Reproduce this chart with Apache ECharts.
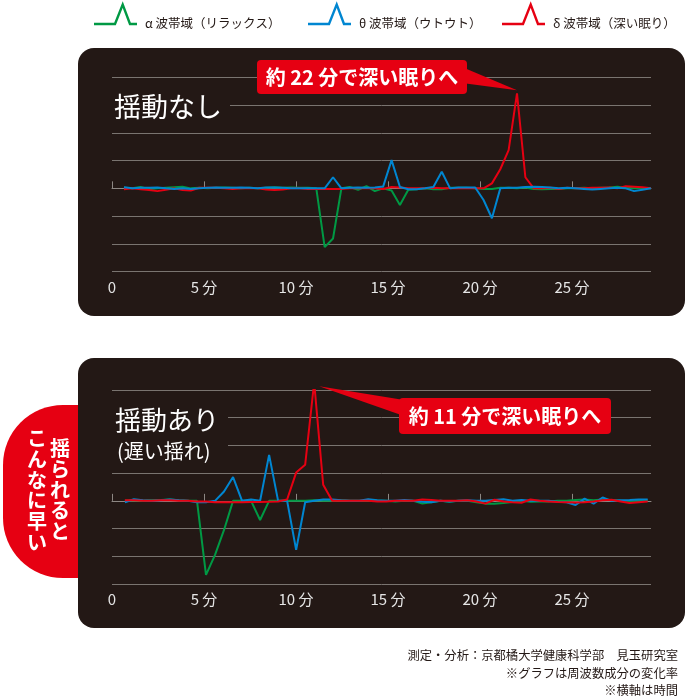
<!DOCTYPE html>
<html>
<head>
<meta charset="utf-8">
<script src="https://cdn.jsdelivr.net/npm/echarts@6/dist/echarts.min.js"></script>
<style>
  html, body { margin: 0; padding: 0; background: #fff; }
  #chart { width: 688px; height: 700px; }
</style>
</head>
<body>
<div id="chart"></div>
<script>
const legendNames = ['α 波帯域（リラックス）', 'θ 波帯域（ウトウト）', 'δ 波帯域（深い眠り）']
const colorList = ['#009944', '#0086d1', '#e60012']
const xTicks = [0, 5, 10, 15, 20, 25]

// 揺動なし（約0.45分ごと）
const calmStart = 0.65
const calmStep = 0.4546
const calmAlpha = [
  0.02, 0.0, 0.05, -0.03, 0.0, 0.02, 0.04, 0.06, 0.0, 0.02,
  0.0, 0.02, 0.03, 0.02, 0.0, 0.02, 0.0, 0.02, 0.04, 0.02,
  0.03, 0.02, 0.02, 0.0, -2.12, -1.81, 0.0, 0.05, -0.05, 0.08,
  -0.1, 0.0, -0.08, -0.6, -0.05, -0.03, 0.0, -0.03, -0.03, 0.02,
  0.02, 0.02, 0.0, -0.02, -0.02, 0.02, 0.02, 0.0, 0.03, -0.02,
  -0.03, -0.02, -0.02, 0.0, 0.0, 0.02, 0.0, 0.02, 0.03, 0.06,
  0.02, 0.0, 0.0, 0.0
]
const calmTheta = [
  0.04, 0.0, 0.02, 0.02, 0.03, 0.0, -0.02, 0.0, -0.02, 0.0,
  0.02, 0.03, 0.02, 0.02, 0.03, 0.02, 0.0, 0.03, 0.03, 0.02,
  0.0, 0.0, 0.0, 0.0, 0.0, 0.40, 0.0, 0.02, 0.03, 0.02,
  0.03, 0.07, 1.02, 0.05, -0.03, -0.03, 0.0, 0.05, 0.6, 0.0,
  0.03, 0.03, 0.03, -0.42, -1.08, 0.0, 0.02, 0.02, 0.05, 0.06,
  0.05, 0.03, 0.0, 0.02, 0.0, -0.02, -0.04, -0.02, 0.0, 0.02,
  0.0, -0.1, -0.05, 0.0
]
const calmDelta = [
  -0.03, 0.0, -0.03, -0.06, -0.1, -0.05, 0.0, -0.06, -0.08, 0.02,
  0.02, 0.02, 0.0, -0.02, 0.0, 0.0, 0.0, -0.04, -0.06, -0.04,
  0.0, 0.0, -0.02, -0.02, -0.02, -0.02, -0.02, 0.0, 0.0, 0.0,
  0.0, -0.02, 0.05, 0.03, 0.0, 0.0, 0.0, 0.02, 0.0, 0.0,
  0.0, 0.0, 0.0, 0.0, 0.18, 0.69, 1.38, 3.43, 0.40, 0.0,
  0.0, 0.02, -0.02, 0.02, 0.0, 0.0, 0.02, 0.02, 0.03, 0.0,
  0.08, 0.06, 0.04, 0.0
]

// 揺動あり（約0.49分ごと）
const rockStart = 0.7
const rockStep = 0.49
const rockAlpha = [
  0.0, 0.02, 0.0, 0.02, 0.03, 0.05, 0.02, 0.0, 0.0, -2.67,
  -1.95, -1.05, 0.0, 0.0, 0.0, -0.69, 0.0, 0.0, 0.0, 0.0,
  0.0, 0.02, 0.0, 0.0, 0.02, 0.0, 0.0, 0.0, 0.0, 0.0,
  -0.02, 0.0, 0.0, -0.1, -0.05, 0.0, -0.03, 0.0, 0.0, -0.05,
  -0.1, -0.1, -0.08, -0.04, 0.0, -0.03, -0.02, -0.02, 0.0, 0.0,
  0.03, 0.05, 0.02, 0.05, 0.03, 0.0, -0.02, 0.0, 0.02
]
const rockTheta = [
  -0.05, 0.06, 0.02, 0.0, 0.02, 0.05, 0.02, 0.0, -0.05, -0.05,
  0.0, 0.34, 0.86, 0.0, 0.05, 0.0, 1.66, 0.0, 0.0, -1.77,
  -0.05, 0.0, 0.05, 0.05, 0.02, 0.0, 0.0, 0.06, 0.02, 0.0,
  0.0, 0.03, 0.0, -0.03, -0.05, 0.0, -0.02, 0.0, 0.02, 0.0,
  0.0, 0.03, 0.06, 0.0, 0.03, 0.0, 0.0, 0.0, -0.03, -0.05,
  -0.15, 0.08, -0.1, 0.12, 0.0, 0.02, 0.03, 0.05, 0.05
]
const rockDelta = [
  0.02, 0.02, 0.0, 0.0, 0.02, 0.02, 0.0, 0.0, -0.02, -0.02,
  -0.05, -0.05, -0.05, -0.05, -0.04, -0.04, -0.03, -0.02, 0.05, 1.02,
  1.30, 4.28, 0.58, 0.0, 0.0, 0.0, 0.0, 0.0, -0.02, -0.02,
  0.0, 0.0, 0.0, 0.05, 0.03, 0.0, 0.0, 0.0, 0.02, -0.02,
  -0.1, 0.04, -0.02, -0.05, -0.07, 0.05, 0.0, -0.02, -0.04, -0.05,
  -0.06, -0.05, -0.02, 0.02, 0.04, -0.02, -0.08, -0.05, -0.02
]

const FONT = '"Noto Sans CJK JP", "Noto Sans", sans-serif'
const PANEL = '#231815'
const GRID_LINE = '#7a7470'
const AXIS_LINE = '#8d8783'

const chart = echarts.init(document.getElementById('chart'))

function toPairs(values, start, step) {
  return values.map((v, i) => [+(start + i * step).toFixed(4), v])
}

function lineSeries(i, values, start, step, axis, z) {
  return {
    name: legendNames[i],
    type: 'line',
    xAxisIndex: axis,
    yAxisIndex: axis,
    data: toPairs(values, start, step),
    symbol: 'none',
    lineStyle: { color: colorList[i], width: 2 },
    itemStyle: { color: colorList[i] },
    z: z,
    silent: true,
    animation: false
  }
}

function xAxisFor(idx) {
  return {
    gridIndex: idx,
    type: 'value',
    min: 0,
    max: 29.3,
    interval: 5,
    axisLine: { lineStyle: { color: AXIS_LINE, width: 1 } },
    axisTick: { inside: true, length: 7, customValues: xTicks, lineStyle: { color: AXIS_LINE } },
    axisLabel: {
      customValues: xTicks,
      margin: 8,
      color: '#e6e6e6',
      fontFamily: FONT,
      fontSize: 15,
      formatter: (v) => (v === 0 ? '0' : v + ' 分')
    },
    splitLine: { show: false }
  }
}

function yAxisFor(idx) {
  return {
    gridIndex: idx,
    type: 'value',
    min: -3,
    max: 4,
    interval: 1,
    axisLine: { show: false },
    axisTick: { show: false },
    axisLabel: { show: false },
    splitLine: { lineStyle: { color: GRID_LINE, width: 1 } }
  }
}

chart.setOption({
  animation: false,
  grid: [
    { left: 112, width: 539, top: 77.5, height: 194 },
    { left: 112, width: 539, top: 390, height: 194 }
  ],
  xAxis: [xAxisFor(0), xAxisFor(1)],
  yAxis: [yAxisFor(0), yAxisFor(1)],
  series: [
    lineSeries(0, calmAlpha, calmStart, calmStep, 0, 2),
    lineSeries(2, calmDelta, calmStart, calmStep, 0, 3),
    lineSeries(1, calmTheta, calmStart, calmStep, 0, 4),
    lineSeries(0, rockAlpha, rockStart, rockStep, 1, 2),
    lineSeries(1, rockTheta, rockStart, rockStep, 1, 3),
    lineSeries(2, rockDelta, rockStart, rockStep, 1, 4)
  ]
})

// 吹き出しの先端はピーク位置から求める
const calmPeak = calmDelta.indexOf(Math.max(...calmDelta))
const rockPeak = rockDelta.indexOf(Math.max(...rockDelta))
const calmTip = chart.convertToPixel({ gridIndex: 0 }, [calmStart + calmPeak * calmStep, calmDelta[calmPeak]])
const rockTip = chart.convertToPixel({ gridIndex: 1 }, [rockStart + rockPeak * rockStep, rockDelta[rockPeak]])

function txt(x, y, text, font, fill, align, z) {
  return {
    type: 'text',
    x: x,
    y: y,
    z: z,
    style: {
      text: text,
      font: font,
      fill: fill,
      textAlign: align,
      align: align,
      textVerticalAlign: 'middle',
      verticalAlign: 'middle'
    }
  }
}

const legendLeft = [94, 308, 502]
const graphics = []

// 凡例
legendNames.forEach((name, i) => {
  const x0 = legendLeft[i]
  graphics.push({
    type: 'polyline',
    z: 5,
    shape: { points: [[x0, 24], [x0 + 21, 24], [x0 + 28.7, 4.5], [x0 + 36, 24], [x0 + 43, 24]] },
    style: { stroke: colorList[i], lineWidth: 2.4, fill: 'none' }
  })
  graphics.push(txt(x0 + 51, 23, name, `12.5px ${FONT}`, '#231815', 'left', 5))
})

// 左の赤いラベル
graphics.push({
  type: 'rect',
  z: -20,
  shape: { x: 3, y: 405, width: 100, height: 173, r: [60, 0, 0, 60] },
  style: { fill: '#e60012' }
})
graphics.push({
  type: 'text', x: 60, y: 438, z: -19,
  style: { text: '揺られると'.split('').join('\n'), font: `bold 20px ${FONT}`, fill: '#fff', lineHeight: 20.8, textAlign: 'center', align: 'center', textVerticalAlign: 'top', verticalAlign: 'top' }
})
graphics.push({
  type: 'text', x: 37, y: 428, z: -19,
  style: { text: 'こんなに早い'.split('').join('\n'), font: `bold 20px ${FONT}`, fill: '#fff', lineHeight: 20.8, textAlign: 'center', align: 'center', textVerticalAlign: 'top', verticalAlign: 'top' }
})

// パネル
graphics.push({ type: 'rect', z: -10, shape: { x: 78, y: 48, width: 607, height: 268, r: 16 }, style: { fill: PANEL } })
graphics.push({ type: 'rect', z: -10, shape: { x: 78, y: 358, width: 607, height: 270, r: 16 }, style: { fill: PANEL } })

// 見出し
graphics.push({ type: 'rect', z: 1, shape: { x: 100, y: 92, width: 130, height: 28 }, style: { fill: PANEL } })
graphics.push(txt(114, 106.5, '揺動なし', `27px ${FONT}`, '#fff', 'left', 1))
graphics.push({ type: 'rect', z: 1, shape: { x: 100, y: 405, width: 128, height: 58 }, style: { fill: PANEL } })
graphics.push(txt(115, 420.5, '揺動あり', `26px ${FONT}`, '#fff', 'left', 1))
graphics.push(txt(117, 451.5, '(遅い揺れ)', `20px ${FONT}`, '#fff', 'left', 1))

// 吹き出し
graphics.push({
  type: 'polygon', z: 10,
  shape: { points: [[462, 67], [462, 83], [calmTip[0], calmTip[1] - 3]] },
  style: { fill: '#e60012' }
})
graphics.push({ type: 'rect', z: 10, shape: { x: 257, y: 60, width: 210, height: 34, r: 4 }, style: { fill: '#e60012' } })
graphics.push(txt(362, 77.5, '約 22 分で深い眠りへ', `bold 20px ${FONT}`, '#fff', 'center', 11))
graphics.push({
  type: 'polygon', z: 10,
  shape: { points: [[404, 400], [404, 416], [rockTip[0] + 5, rockTip[1] + 4]] },
  style: { fill: '#e60012' }
})
graphics.push({ type: 'rect', z: 10, shape: { x: 399, y: 398, width: 212, height: 36, r: 4 }, style: { fill: '#e60012' } })
graphics.push(txt(505, 416.5, '約 11 分で深い眠りへ', `bold 20px ${FONT}`, '#fff', 'center', 11))

// 注記
graphics.push(txt(678, 655, '測定・分析：京都橘大学健康科学部　見玉研究室', `12.3px ${FONT}`, '#231815', 'right', 5))
graphics.push(txt(678, 673, '※グラフは周波数成分の変化率', `12.3px ${FONT}`, '#231815', 'right', 5))
graphics.push(txt(678, 690, '※横軸は時間', `12.3px ${FONT}`, '#231815', 'right', 5))

chart.setOption({ graphic: { elements: graphics } })
</script>
</body>
</html>
